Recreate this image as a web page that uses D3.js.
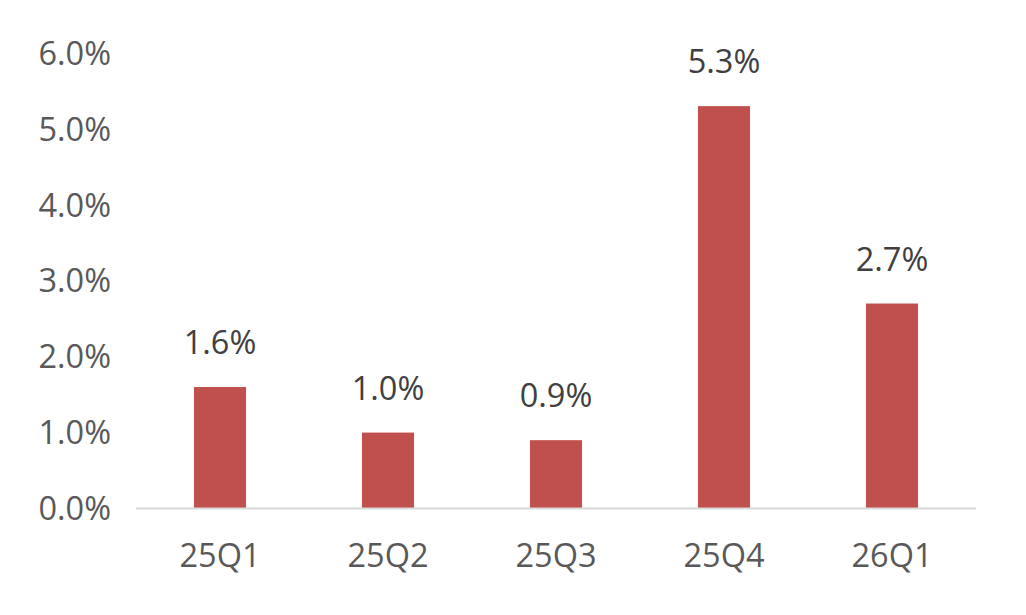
<!DOCTYPE html>
<html>
<head>
<meta charset="utf-8">
<script src="https://cdn.jsdelivr.net/npm/d3@7"></script>
<style>
  html, body { margin: 0; padding: 0; background: #fff; }
  svg { display: block; font-family: "Open Sans", "Noto Sans", sans-serif; }
</style>
</head>
<body>
<svg id="chart" width="1026" height="615"></svg>
<script>
const quarters = ["25Q1", "25Q2", "25Q3", "25Q4", "26Q1"];
const growth = [1.6, 1.0, 0.9, 5.3, 2.7];
const yTicks = [0, 1, 2, 3, 4, 5, 6];

const svg = d3.select("#chart");

const x = d3.scaleBand()
    .domain(quarters)
    .range([136, 976])
    .paddingInner(0.69)
    .paddingOuter(0.345);

const y = d3.scaleLinear()
    .domain([0, 6])
    .range([508.5, 53]);

// y labels, no axis line
svg.append("g")
    .selectAll("text")
    .data(yTicks)
    .join("text")
    .attr("x", 111)
    .attr("y", d => y(d))
    .attr("dy", "0.36em")
    .attr("text-anchor", "end")
    .style("font-size", "32.5px")
    .style("fill", "#595959")
    .text(d => d.toFixed(1) + "%");

// bars
svg.append("g")
    .selectAll("rect")
    .data(growth)
    .join("rect")
    .attr("x", (d, i) => x(quarters[i]))
    .attr("y", d => y(d))
    .attr("width", x.bandwidth())
    .attr("height", d => y(0) - y(d))
    .attr("fill", "#c0504d");

// baseline
svg.append("line")
    .attr("x1", 136)
    .attr("x2", 976)
    .attr("y1", y(0))
    .attr("y2", y(0))
    .attr("stroke", "#d9d9d9")
    .attr("stroke-width", 2);

// category labels
svg.append("g")
    .selectAll("text")
    .data(quarters)
    .join("text")
    .attr("x", d => x(d) + x.bandwidth() / 2)
    .attr("y", 567)
    .attr("text-anchor", "middle")
    .style("font-size", "32.5px")
    .style("fill", "#595959")
    .text(d => d);

// value labels
svg.append("g")
    .selectAll("text")
    .data(growth)
    .join("text")
    .attr("x", (d, i) => x(quarters[i]) + x.bandwidth() / 2)
    .attr("y", d => y(d) - 33)
    .attr("text-anchor", "middle")
    .style("font-size", "32.5px")
    .style("fill", "#404040")
    .text(d => d.toFixed(1) + "%");
</script>
</body>
</html>
